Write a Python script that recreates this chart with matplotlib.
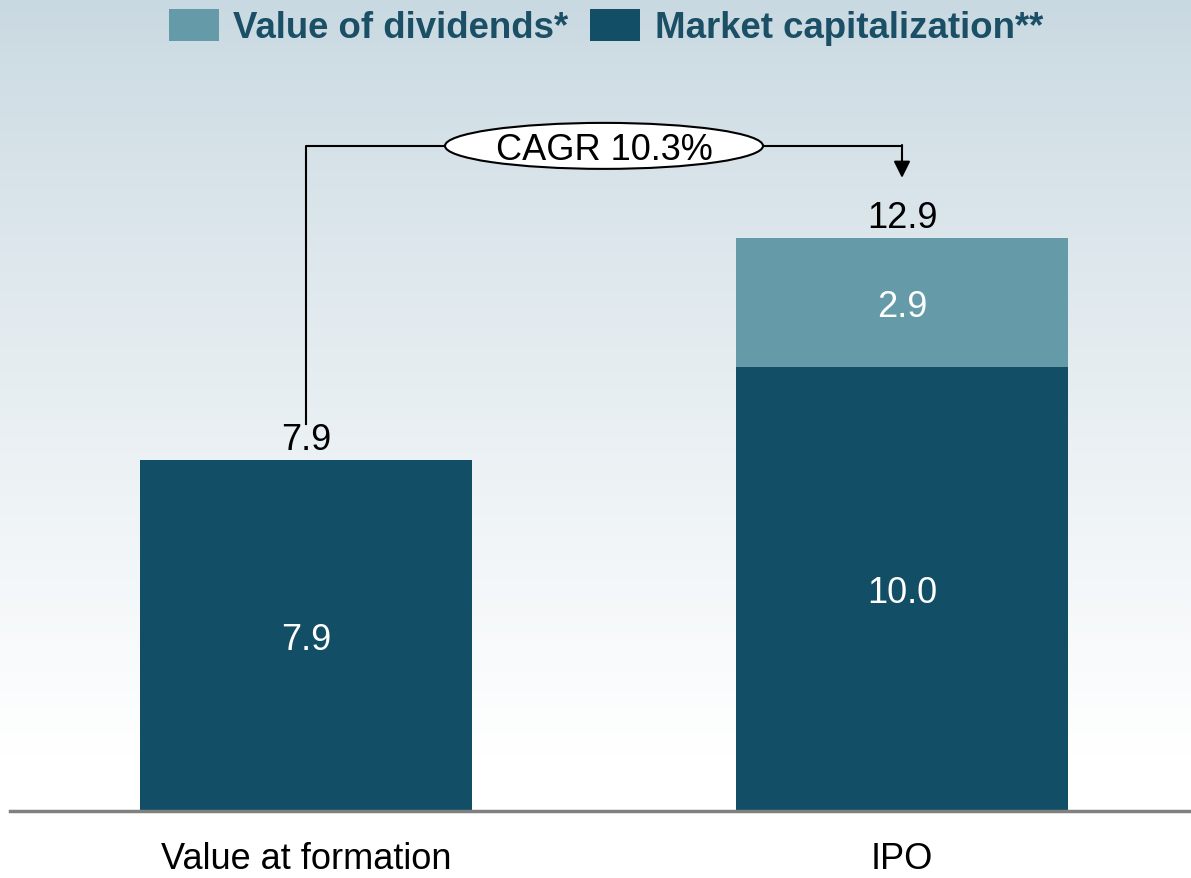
import numpy as np
import matplotlib.pyplot as plt
from matplotlib.patches import Ellipse, Patch

plt.rcParams['font.family'] = ['Liberation Sans', 'DejaVu Sans']

# Data
categories = ['Value at formation', 'IPO']
market_cap = [7.9, 10.0]
dividends = [0.0, 2.9]
cagr = 10.3

dark = '#124F66'
light = '#659BA8'
legend_text = '#1A4F66'

totals = [m + d for m, d in zip(market_cap, dividends)]

fig = plt.figure(figsize=(11.91, 8.79), dpi=100)

# background gradient (light blue-grey at top fading to white)
bg = fig.add_axes([0, 0, 1, 1], zorder=-10)
top = np.array([201, 217, 225]) / 255
grad = np.linspace(0, 1, 400)[:, None]
fade = np.clip(grad / 0.86, 0, 1) ** 0.9
img = top[None, None, :] * (1 - fade[:, :, None]) + np.ones(3)[None, None, :] * fade[:, :, None]
bg.imshow(img, aspect='auto', extent=[0, 1, 0, 1], origin='upper')
bg.axis('off')

# main axes: baseline at y=812 px, bars centred at 306 and 902 px
W, H = 1191, 879
ax = fig.add_axes([10 / W, (H - 812) / H, (W - 10) / W, 812 / H])
ax.patch.set_alpha(0)
px_x = 596.0
px_y = 44.43
ax.set_xlim((10 - 306) / px_x, (W - 306) / px_x)
ax.set_ylim(0, 812 / px_y)

x = np.arange(len(categories))
width = 332 / px_x
ax.bar(x, market_cap, width, color=dark, zorder=2)
ax.bar(x, dividends, width, bottom=market_cap, color=light, zorder=2)

fs = 26
for i in range(len(categories)):
    ax.text(x[i], market_cap[i] / 2, f'{market_cap[i]:.1f}', ha='center',
            va='center_baseline', color='white', fontsize=fs)
    if dividends[i] > 0:
        ax.text(x[i], market_cap[i] + dividends[i] / 2, f'{dividends[i]:.1f}',
                ha='center', va='center_baseline', color='white', fontsize=fs)
    ax.text(x[i], totals[i] + 0.55, f'{totals[i]:.1f}', ha='center', va='center_baseline',
            color='black', fontsize=fs)
    ax.text(x[i], -1.07, categories[i], ha='center', va='center', color='black',
            fontsize=fs, clip_on=False)

# CAGR bracket
y_br = 14.97
ax.plot([x[0], x[0], x[1]], [totals[0] + 0.82, y_br, y_br], color='black', lw=1.5, zorder=3)
ax.annotate('', xy=(x[1], 14.25), xytext=(x[1], y_br + 0.02),
            arrowprops=dict(arrowstyle='-|>', color='black', lw=1.5,
                            mutation_scale=25, shrinkA=0, shrinkB=0))
ax.add_patch(Ellipse(((x[0] + x[1]) / 2, y_br), 318 / px_x, 46 / px_y,
                     facecolor='white', edgecolor='black', lw=1.5, zorder=4))
ax.text((x[0] + x[1]) / 2, y_br, f'CAGR {cagr}%', ha='center', va='center_baseline',
        fontsize=fs, zorder=5)

for s in ['top', 'right', 'left']:
    ax.spines[s].set_visible(False)
ax.spines['bottom'].set_color('#808080')
ax.spines['bottom'].set_linewidth(2.5)
ax.set_xticks([])
ax.set_yticks([])

handles = [Patch(facecolor=light, label='Value of dividends*'),
           Patch(facecolor=dark, label='Market capitalization**')]
leg = fig.legend(handles=handles, loc='center', bbox_to_anchor=(606 / W, 1 - 28 / H),
                 ncol=2, frameon=False, fontsize=26.4, handlelength=1.35, handleheight=1.0,
                 handletextpad=0.4, columnspacing=0.6, borderpad=0)
for t in leg.get_texts():
    t.set_color(legend_text)
    t.set_fontweight('bold')

fig.savefig('out.png', dpi=100)
